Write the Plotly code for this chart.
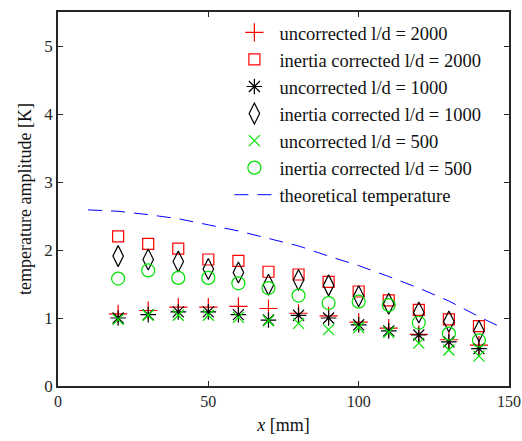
import plotly.graph_objects as go

x_pos = [20, 30, 40, 50, 60, 70, 80, 90, 100, 110, 120, 130, 140]
uncorr_2000 = [1.06, 1.11, 1.16, 1.16, 1.17, 1.14, 1.07, 1.03, 0.94, 0.85, 0.76, 0.68, 0.60]
inert_2000 = [2.20, 2.09, 2.02, 1.86, 1.84, 1.68, 1.64, 1.53, 1.39, 1.26, 1.12, 0.98, 0.88]
uncorr_1000 = [1.00, 1.05, 1.09, 1.09, 1.05, 0.97, 1.04, 1.00, 0.90, 0.81, 0.75, 0.65, 0.55]
inert_1000 = [1.91, 1.86, 1.83, 1.72, 1.67, 1.49, 1.56, 1.48, 1.32, 1.21, 1.08, 0.95, 0.81]
uncorr_500 = [0.98, 1.04, 1.04, 1.04, 1.01, 0.96, 0.92, 0.83, 0.86, 0.79, 0.63, 0.53, 0.44]
inert_500 = [1.58, 1.70, 1.59, 1.59, 1.51, 1.44, 1.33, 1.22, 1.24, 1.19, 0.93, 0.77, 0.67]

x_theory = [10, 20, 30, 40, 50, 60, 70, 80, 90, 100, 110, 120, 130, 140, 148]
theory = [2.59, 2.57, 2.52, 2.46, 2.37, 2.28, 2.17, 2.06, 1.91, 1.77, 1.61, 1.44, 1.25, 1.02, 0.85]

names = ["uncorrected l/d = 2000", "inertia corrected l/d = 2000",
         "uncorrected l/d = 1000", "inertia corrected l/d = 1000",
         "uncorrected l/d = 500", "inertia corrected l/d = 500",
         "theoretical temperature"]

series = [
    (uncorr_2000, "cross-thin-open", "#ff0000", 13),
    (inert_2000, "square-open", "#ff0000", 11),
    (uncorr_1000, "asterisk-open", "#000000", 13),
    (inert_1000, "diamond-tall-open", "#000000", 15),
    (uncorr_500, "x-thin-open", "#00e000", 11),
    (inert_500, "circle-open", "#00e000", 13),
]

FONT = "Liberation Serif"

fig = go.Figure()
for (vals, sym, col, sz), nm in zip(series, names[:6]):
    fig.add_trace(go.Scatter(
        x=x_pos, y=vals, mode="markers", name=nm,
        marker=dict(symbol=sym, size=sz, color=col, line=dict(color=col, width=1.2)),
    ))
fig.add_trace(go.Scatter(
    x=x_theory, y=theory, mode="lines", name=names[6],
    line=dict(color="#0000ff", width=1, dash="14px,9px"),
))

axis_common = dict(
    showline=True, linecolor="#262626", linewidth=1.5, mirror="ticks",
    ticks="inside", ticklen=5, tickwidth=1, tickcolor="#262626",
    showgrid=False, zeroline=False, automargin=False,
    ticklabeloverflow="allow",
    tickfont=dict(family=FONT, size=17, color="#262626"),
)

fig.update_layout(
    width=522, height=441,
    margin=dict(l=58, r=13, t=12, b=55),
    plot_bgcolor="white", paper_bgcolor="white",
    font=dict(family=FONT, size=16, color="#111111"),
    xaxis=dict(range=[0, 150], tickvals=[0, 50, 100, 150],
               title=dict(text="<i>x</i> [mm]", font=dict(family=FONT, size=18), standoff=9),
               **axis_common),
    yaxis=dict(range=[0, 5.5], tickvals=[0, 1, 2, 3, 4, 5],
               title=dict(text="temperature amplitude [K]", font=dict(family=FONT, size=18), standoff=8),
               **axis_common),
    legend=dict(x=0.38, y=0.995, xanchor="left", yanchor="top",
                bgcolor="rgba(255,255,255,0)", borderwidth=0,
                font=dict(family=FONT, size=18.5, color="#111111"),
                tracegroupgap=0, itemwidth=40),
    showlegend=True,
)
fig.update_xaxes(tickfont=dict(size=16))
for i, tr in enumerate(fig.data):
    tr.legendgroup = "g%d" % i

fig.write_html("out.html")
